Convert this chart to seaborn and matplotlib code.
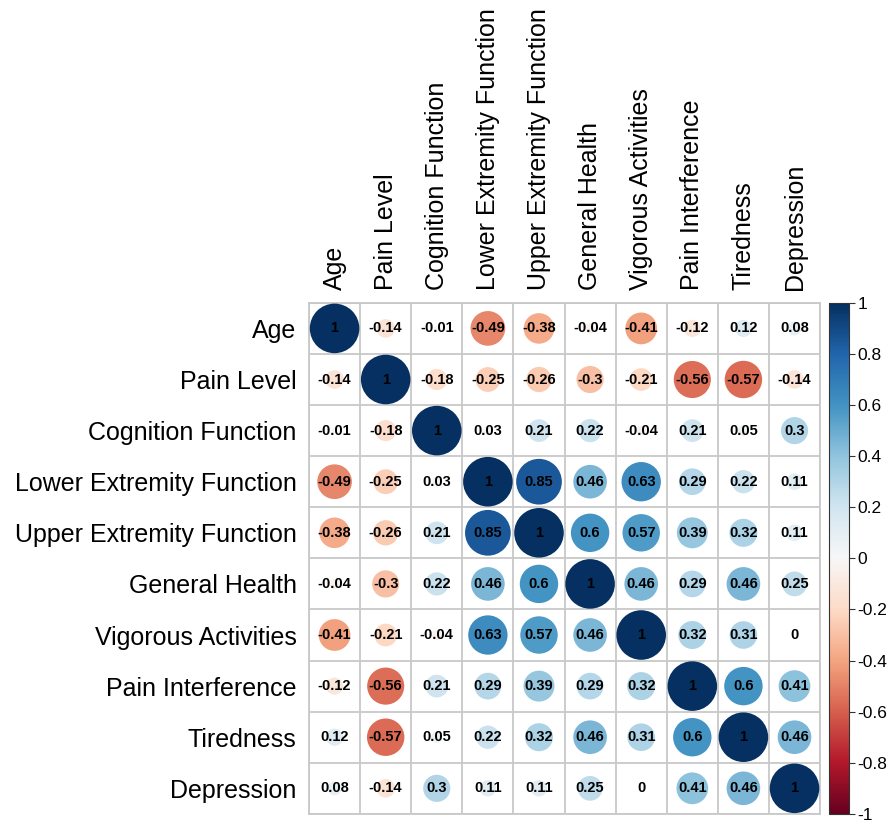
import numpy as np
import pandas as pd
import matplotlib
matplotlib.use("Agg")
import matplotlib.pyplot as plt
import seaborn as sns

# variable names (rows == columns)
labels = ["Age", "Pain Level", "Cognition Function", "Lower Extremity Function",
          "Upper Extremity Function", "General Health", "Vigorous Activities",
          "Pain Interference", "Tiredness", "Depression"]

# correlation matrix, one row per variable
r_age = [1, -0.14, -0.01, -0.49, -0.38, -0.04, -0.41, -0.12, 0.12, 0.08]
r_pain = [-0.14, 1, -0.18, -0.25, -0.26, -0.3, -0.21, -0.56, -0.57, -0.14]
r_cog = [-0.01, -0.18, 1, 0.03, 0.21, 0.22, -0.04, 0.21, 0.05, 0.3]
r_lower = [-0.49, -0.25, 0.03, 1, 0.85, 0.46, 0.63, 0.29, 0.22, 0.11]
r_upper = [-0.38, -0.26, 0.21, 0.85, 1, 0.6, 0.57, 0.39, 0.32, 0.11]
r_health = [-0.04, -0.3, 0.22, 0.46, 0.6, 1, 0.46, 0.29, 0.46, 0.25]
r_vig = [-0.41, -0.21, -0.04, 0.63, 0.57, 0.46, 1, 0.32, 0.31, 0]
r_painint = [-0.12, -0.56, 0.21, 0.29, 0.39, 0.29, 0.32, 1, 0.6, 0.41]
r_tired = [0.12, -0.57, 0.05, 0.22, 0.32, 0.46, 0.31, 0.6, 1, 0.46]
r_dep = [0.08, -0.14, 0.3, 0.11, 0.11, 0.25, 0, 0.41, 0.46, 1]

cbar_ticks = [-1, -0.8, -0.6, -0.4, -0.2, 0, 0.2, 0.4, 0.6, 0.8, 1]

corr = pd.DataFrame([r_age, r_pain, r_cog, r_lower, r_upper, r_health,
                     r_vig, r_painint, r_tired, r_dep], index=labels, columns=labels)

# long format for scatterplot
long = corr.reset_index().melt(id_vars="index", var_name="col", value_name="r")
long = long.rename(columns={"index": "row"})
long["xi"] = long["col"].map({l: i for i, l in enumerate(labels)})
long["yi"] = long["row"].map({l: i for i, l in enumerate(labels)})
long["absr"] = long["r"].abs()

sns.set_style("white")
plt.rcParams["font.family"] = ["Liberation Sans", "DejaVu Sans"]

fig = plt.figure(figsize=(8.88, 8.25), dpi=100)
ax = fig.add_axes([0.348, 0.0135, 0.5755, 0.6194])

cell_pt = 0.5755 * 8.88 * 72 / 10
smax = (cell_pt * 0.97) ** 2

sns.scatterplot(data=long, x="xi", y="yi", hue="r", size="absr",
                palette="RdBu", hue_norm=(-1, 1), size_norm=(0, 1),
                sizes=(0, smax), linewidth=0, legend=False, ax=ax, zorder=3)

for _, row in long.iterrows():
    ax.text(row["xi"], row["yi"], f"{row['r']:g}", ha="center", va="center",
            fontsize=10.5, fontweight="bold", color="black", zorder=4)

ax.set_xlim(-0.5, 9.5)
ax.set_ylim(9.5, -0.5)
ax.set_xticks(range(10))
ax.set_yticks(range(10))
ax.set_xticks(np.arange(-0.5, 10, 1), minor=True)
ax.set_yticks(np.arange(-0.5, 10, 1), minor=True)
ax.grid(which="minor", color="#c8c8c8", linewidth=1.3)
ax.grid(which="major", visible=False)
ax.xaxis.tick_top()
ax.set_xticklabels(labels, rotation=90, fontsize=18, ha="center", va="bottom", color="black")
ax.set_yticklabels(labels, fontsize=18, color="black")
ax.tick_params(which="both", length=0)
ax.tick_params(axis="x", pad=9)
ax.tick_params(axis="y", pad=9)
ax.set_xlabel("")
ax.set_ylabel("")
for sp in ax.spines.values():
    sp.set_color("#c8c8c8")
    sp.set_linewidth(1.3)

# colorbar
cax = fig.add_axes([0.9336, 0.0135, 0.0225, 0.6194])
sm = plt.cm.ScalarMappable(cmap="RdBu", norm=plt.Normalize(-1, 1))
cb = fig.colorbar(sm, cax=cax, ticks=cbar_ticks)
cb.ax.set_yticklabels([f"{t:g}" for t in cbar_ticks], fontsize=12.5, color="black")
cb.ax.tick_params(length=4, width=0.8, color="#333333", pad=2)
cb.outline.set_edgecolor("#333333")
cb.outline.set_linewidth(0.8)

plt.savefig("out.png", dpi=100)
plt.close()
